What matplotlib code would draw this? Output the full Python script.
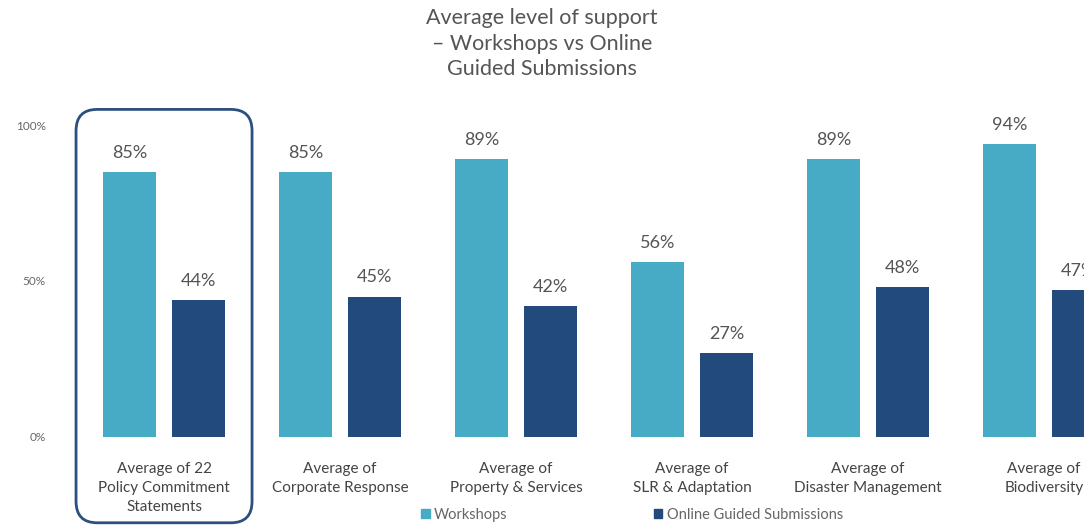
import matplotlib.pyplot as plt
from matplotlib.patches import FancyBboxPatch, Patch
import numpy as np

# Data
categories = ["Average of 22\nPolicy Commitment\nStatements",
              "Average of\nCorporate Response",
              "Average of\nProperty & Services",
              "Average of\nSLR & Adaptation",
              "Average of\nDisaster Management",
              "Average of\nBiodiversity"]
workshops = [85, 85, 89, 56, 89, 94]
online = [44, 45, 42, 27, 48, 47]

c_work = "#48abc5"
c_online = "#234a7c"
grey = "#555555"

plt.rcParams['font.family'] = ['Lato', 'DejaVu Sans']

fig = plt.figure(figsize=(10.84, 5.27), dpi=100)
ax = fig.add_axes([0.06, 0.1708, 0.94, 0.5920])

x = np.arange(len(categories))
w = 0.30
off = 0.195
b1 = ax.bar(x - off, workshops, w, color=c_work)
b2 = ax.bar(x + off, online, w, color=c_online)

for bars, vals in ((b1, workshops), (b2, online)):
    for b, v in zip(bars, vals):
        ax.annotate(f"{v}%", (b.get_x() + b.get_width() / 2, v),
                    xytext=(0, 8), textcoords="offset points",
                    ha="center", va="bottom", fontsize=13, color=grey,
                    annotation_clip=False)

ax.set_xlim(-0.5625, 5.227)
ax.set_ylim(0, 100)
ax.set_yticks([0, 50, 100])
ax.set_yticklabels(["0%", "50%", "100%"], fontsize=8.5, color="#666666")
ax.set_xticks(x)
ax.set_xticklabels(categories, fontsize=11, color="#444444", linespacing=1.45)
ax.tick_params(length=0)
ax.tick_params(axis="x", pad=18)
ax.tick_params(axis="y", pad=14)
for s in ax.spines.values():
    s.set_visible(False)

# rounded highlight box around the first group
box = FancyBboxPatch((-0.5, -27.5), 1.0, 132.5,
                     boxstyle="round,pad=0,rounding_size=0.12",
                     mutation_aspect=57, fill=False, edgecolor="#2d4f7f",
                     linewidth=2, clip_on=False)
ax.add_patch(box)

fig.suptitle("Average level of support\n\u2013 Workshops vs Online\nGuided Submissions",
             y=0.985, fontsize=15.5, color=grey, linespacing=1.35)

handles = [Patch(color=c_work, label="Workshops"),
           Patch(color=c_online, label="Online Guided Submissions")]
fig.legend(handles=handles, loc="center", bbox_to_anchor=(0.583, 0.023),
           ncol=2, frameon=False, fontsize=10.5, labelcolor="#666666",
           handlelength=0.6, handleheight=0.6, handletextpad=0.3,
           columnspacing=10)

fig.savefig("out.png", dpi=100)
